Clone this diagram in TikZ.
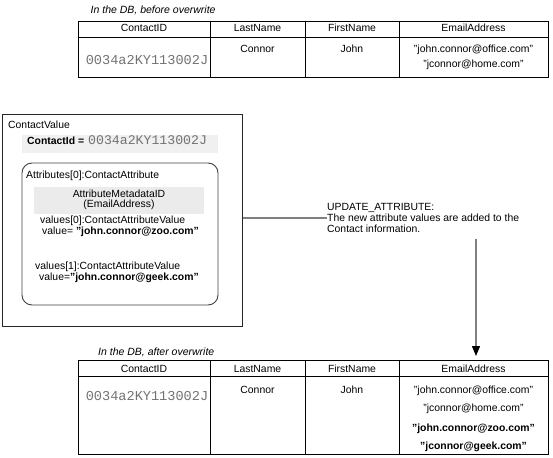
\documentclass[tikz,border=0pt]{standalone}
\usepackage{fontspec}
\setmainfont{Liberation Sans}
\newfontfamily\codefont{Liberation Mono}
\usetikzlibrary{arrows.meta}

\tikzset{
  txt/.style={anchor=base, inner sep=0pt, font=\fontsize{10.4}{11}\selectfont},
  ltxt/.style={txt, anchor=base west},
  code/.style={anchor=base, inner sep=0pt, font=\fontsize{13.6}{14}\codefont, text=black!55},
  caption/.style={anchor=base west, inner sep=0pt, font=\fontsize{10.5}{11}\selectfont\itshape},
  tbl/.style={draw, line width=0.9pt},
  link/.style={draw=black!50, line width=1.3pt},
}

\begin{document}
\begin{tikzpicture}[x=1pt,y=-1pt]
\useasboundingbox (0,0) rectangle (553,457);

% table before overwrite
\node[caption] (capbefore) at (90.5,13.5) {In the DB, before overwrite};
\node[tbl, anchor=north west, inner sep=0pt, minimum width=470pt, minimum height=56.6pt] (before) at (78,20.7) {};
\draw[tbl] (78,37) -- (548,37);
\foreach \x in {210,305,399} \draw[tbl] (\x,20.7) -- (\x,77.3);
\node[txt] (bid) at (144,31.7) {ContactID};
\node[txt] (blast) at (257.5,31.7) {LastName};
\node[txt] (bfirst) at (352,31.7) {FirstName};
\node[txt] (bmail) at (473.5,31.7) {EmailAddress};
\node[code] (bidval) at (147,65) {0034a2KY113002J};
\node[txt] (blastval) at (257.5,53) {Connor};
\node[txt] (bfirstval) at (352,53) {John};
\node[txt] (bmail1) at (473.5,53) {"john.connor@office.com"};
\node[txt] (bmail2) at (473.5,67.5) {"jconnor@home.com"};

% contact value
\node[draw=black!85, line width=0.9pt, anchor=north west, inner sep=0pt, minimum width=240pt, minimum height=212pt] (cv) at (2,114) {};
\fill[black!6] (22,135) rectangle (218,153);
\draw[black!75, line width=0.9pt, rounded corners=10pt] (22,163) rectangle (218,305);
\fill[black!8] (34,187) rectangle (204,214);
\node[ltxt] (cvname) at (8,129) {ContactValue};
\node[ltxt] (cidlbl) at (27,145) {\bfseries ContactId =};
\node[code, anchor=base west, font=\fontsize{13.2}{14}\codefont] (cidval) at (88,145) {0034a2KY113002J};
\node[ltxt] (attr) at (26,178) {Attributes[0]:ContactAttribute};
\node[txt] (meta) at (119,197) {AttributeMetadataID};
\node[txt] (metaname) at (119,207.5) {(EmailAddress)};
\node[ltxt] (val0) at (40,223) {values[0]:ContactAttributeValue};
\node[ltxt] (val0v) at (42,234) {value= \textbf{"john.connor@zoo.com"}};
\node[ltxt] (val1) at (35,269) {values[1]:ContactAttributeValue};
\node[ltxt] (val1v) at (39,280) {value=\textbf{"john.connor@geek.com"}};

% update note
\node[txt, anchor=west, align=left] (note) at (327,218) {UPDATE\_ATTRIBUTE:\\The new attribute values are added to the\\Contact information.};
\draw[link] (note.west -| cv.east) -- (note.west);

% table after overwrite
\node[caption] (capafter) at (98,355) {In the DB, after overwrite};
\node[tbl, anchor=north west, inner sep=0pt, minimum width=470pt, minimum height=94.3pt] (after) at (78,360) {};
\draw[tbl] (78,376.7) -- (548,376.7);
\foreach \x in {210,305,399} \draw[tbl] (\x,360) -- (\x,454.3);
\node[txt] (aid) at (144,372.3) {ContactID};
\node[txt] (alast) at (257.5,372.3) {LastName};
\node[txt] (afirst) at (352,372.3) {FirstName};
\node[txt] (amail) at (473.5,372.3) {EmailAddress};
\node[code] (aidval) at (147,400) {0034a2KY113002J};
\node[txt] (alastval) at (257.5,393) {Connor};
\node[txt] (afirstval) at (352,393) {John};
\node[txt] (amail1) at (473.5,393) {"john.connor@office.com"};
\node[txt] (amail2) at (473.5,411.5) {"jconnor@home.com"};
\node[txt] (amail3) at (473.5,431) {\bfseries"john.connor@zoo.com"};
\node[txt] (amail4) at (473.5,449) {\bfseries"jconnor@geek.com"};

\coordinate (drop) at (476,239);
\draw[link, -{Triangle[length=10pt, width=8pt, color=black]}, shorten >=4pt] (drop) -- (drop |- after.north);
\end{tikzpicture}
\end{document}
